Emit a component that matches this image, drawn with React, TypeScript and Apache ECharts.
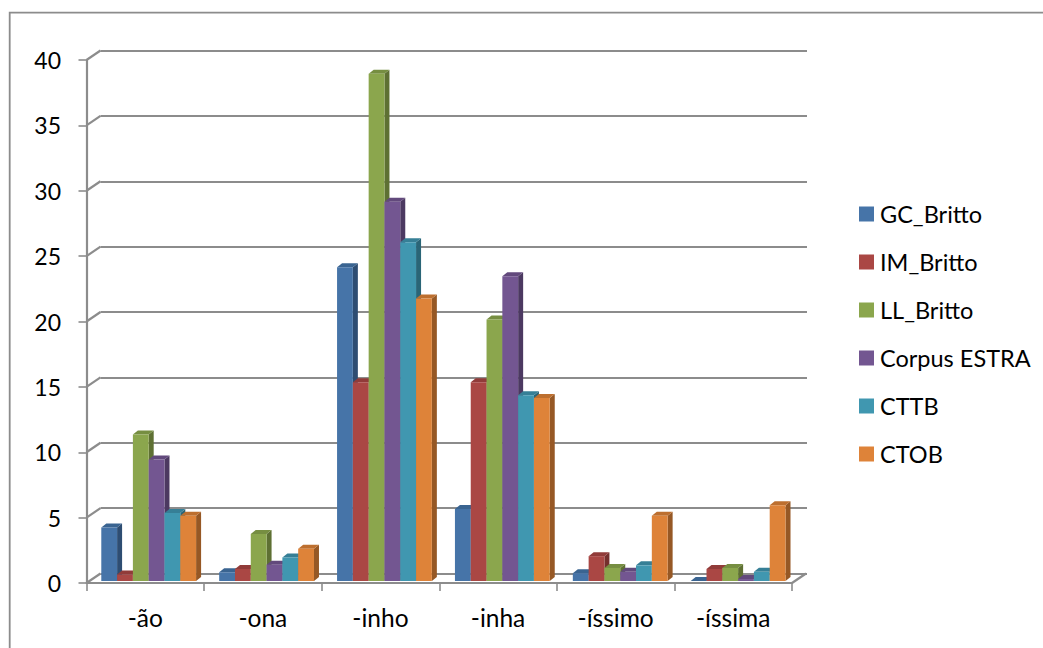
import React, { useEffect, useRef } from "react";
import * as echarts from "echarts";

const categories = ["-ão", "-ona", "-inho", "-inha", "-íssimo", "-íssima"];
const valueTicks = [0, 5, 10, 15, 20, 25, 30, 35, 40];

const seriesNames = ["GC_Britto", "IM_Britto", "LL_Britto", "Corpus ESTRA", "CTTB", "CTOB"];
const gcBritto = [4.1, 0.67, 24.0, 5.5, 0.6, 0];
const imBritto = [0.5, 0.92, 15.2, 15.2, 1.9, 0.92];
const llBritto = [11.2, 3.6, 38.8, 20.0, 1.0, 1.0];
const corpusEstra = [9.3, 1.25, 29.0, 23.3, 0.7, 0.15];
const cttb = [5.2, 1.8, 25.9, 14.2, 1.2, 0.7];
const ctob = [5.0, 2.47, 21.6, 14.0, 5.0, 5.8];
const seriesValues = [gcBritto, imBritto, llBritto, corpusEstra, cttb, ctob];

// Front, side and top shades of each extruded column.
const frontColors = ["#4674A8", "#AA4744", "#8BA64D", "#735691", "#4097B0", "#DE8339"];
const sideColors = ["#2E4D72", "#742F2D", "#5E7033", "#4C3961", "#2A6577", "#965825"];
const topColors = ["#3A6491", "#913B39", "#768E41", "#62497C", "#367F96", "#BD6F2F"];

const FONT = "Lato, Carlito, sans-serif";
const AXIS_GREY = "#8C8C8C";
const LINE_WIDTH = 2.2;

const GRID = { left: 86.5, top: 60, width: 705.5, height: 523 };
const WALL_DX = 14;
const WALL_DY = -9.5;

const BAR_WIDTH = 15.8;
const BAR_DX = 5;
const BAR_DY = -4;
const BAR_LIFT = 2;

function columnRenderer(seriesIndex: number) {
  return (_params: any, api: any) => {
    const cat = api.value(0);
    const val = api.value(1);
    const [cx, zeroY] = api.coord([cat, 0]);
    const [, valueY] = api.coord([cat, val]);
    const groupShift = 3.4 + 0.3 * cat;
    const x0 = cx + groupShift + (seriesIndex - 3) * BAR_WIDTH;
    const x1 = x0 + BAR_WIDTH;
    const yBase = zeroY - BAR_LIFT;
    const yTop = valueY - BAR_LIFT;
    return {
      type: "group",
      children: [
        {
          type: "polygon",
          shape: { points: [[x1, yBase], [x1 + BAR_DX, yBase + BAR_DY], [x1 + BAR_DX, yTop + BAR_DY], [x1, yTop]] },
          style: { fill: sideColors[seriesIndex] },
        },
        {
          type: "polygon",
          shape: { points: [[x0, yTop], [x1, yTop], [x1 + BAR_DX, yTop + BAR_DY], [x0 + BAR_DX, yTop + BAR_DY]] },
          style: { fill: topColors[seriesIndex] },
        },
        {
          type: "rect",
          shape: { x: x0, y: yTop, width: BAR_WIDTH, height: yBase - yTop },
          style: { fill: frontColors[seriesIndex] },
        },
      ],
    };
  };
}

// Short diagonals joining each value tick on the front axis to its gridline on the back wall.
function wallConnector(_params: any, api: any) {
  const [, y] = api.coord([0, api.value(1)]);
  const x = GRID.left;
  return {
    type: "line",
    shape: { x1: x, y1: y, x2: x + WALL_DX, y2: y + WALL_DY },
    style: { stroke: AXIS_GREY, lineWidth: LINE_WIDTH },
  };
}

export default function App() {
  const ref = useRef<HTMLDivElement>(null);

  useEffect(() => {
    const chart = echarts.init(ref.current!, undefined, { renderer: "svg" });
    const right = GRID.left + GRID.width;
    const bottom = GRID.top + GRID.height;
    chart.setOption({
      animation: false,
      backgroundColor: "#ffffff",
      textStyle: { fontFamily: FONT },
      grid: [
        { ...GRID },
        { left: GRID.left + WALL_DX, top: GRID.top + WALL_DY, width: GRID.width + 1, height: GRID.height },
      ],
      xAxis: [
        {
          type: "category",
          gridIndex: 0,
          data: categories,
          axisLine: { lineStyle: { color: AXIS_GREY, width: LINE_WIDTH } },
          axisTick: { show: true, alignWithLabel: false, length: 8, lineStyle: { color: AXIS_GREY, width: 1.6 } },
          axisLabel: { interval: 0, margin: 22, color: "#000", fontFamily: FONT, fontSize: 24.5 },
        },
        { type: "category", gridIndex: 1, data: categories, show: false },
      ],
      yAxis: [
        {
          type: "value",
          gridIndex: 0,
          min: 0,
          max: 40,
          interval: 5,
          splitLine: { show: false },
          axisLine: { show: true, lineStyle: { color: AXIS_GREY, width: LINE_WIDTH } },
          axisTick: { show: true, length: 8, lineStyle: { color: AXIS_GREY, width: 1.6 } },
          axisLabel: { margin: 25.5, color: "#000", fontFamily: FONT, fontSize: 23, padding: [10, 0, 0, 0] },
        },
        {
          type: "value",
          gridIndex: 1,
          min: 0,
          max: 40,
          interval: 5,
          axisLine: { show: false },
          axisTick: { show: false },
          axisLabel: { show: false },
          splitLine: { show: true, lineStyle: { color: AXIS_GREY, width: LINE_WIDTH } },
        },
      ],
      legend: {
        show: true,
        orient: "vertical",
        left: 854,
        top: 197,
        icon: "rect",
        itemWidth: 15,
        itemHeight: 15,
        itemGap: 24,
        data: seriesNames,
        selectedMode: false,
        textStyle: { color: "#000", fontFamily: FONT, fontSize: 23.5, padding: [0, 0, 0, 1] },
      },
      graphic: [
        {
          type: "polyline",
          shape: { points: [[9.7, 648], [9.7, 12.7], [1043, 12.7]] },
          style: { stroke: AXIS_GREY, lineWidth: 1.8, fill: "none" },
          silent: true,
        },
        {
          type: "line",
          shape: { x1: right, y1: bottom, x2: right + WALL_DX, y2: bottom + WALL_DY },
          style: { stroke: AXIS_GREY, lineWidth: LINE_WIDTH },
          silent: true,
        },
      ],
      series: [
        {
          type: "custom",
          name: "wall",
          xAxisIndex: 0,
          yAxisIndex: 0,
          renderItem: wallConnector,
          data: valueTicks.map((t) => [0, t]),
          encode: { x: 0, y: 1 },
          clip: false,
          silent: true,
          z: 1,
        },
        ...seriesNames.map((name, s) => ({
          type: "custom",
          name,
          xAxisIndex: 0,
          yAxisIndex: 0,
          itemStyle: { color: frontColors[s] },
          renderItem: columnRenderer(s),
          data: seriesValues[s].map((v, i) => [i, v]),
          encode: { x: 0, y: 1 },
          clip: false,
          silent: true,
          z: 3,
        })),
      ],
    });
    return () => chart.dispose();
  }, []);

  return <div ref={ref} style={{ position: "fixed", left: 0, top: 0, width: 1043, height: 648 }} />;
}
